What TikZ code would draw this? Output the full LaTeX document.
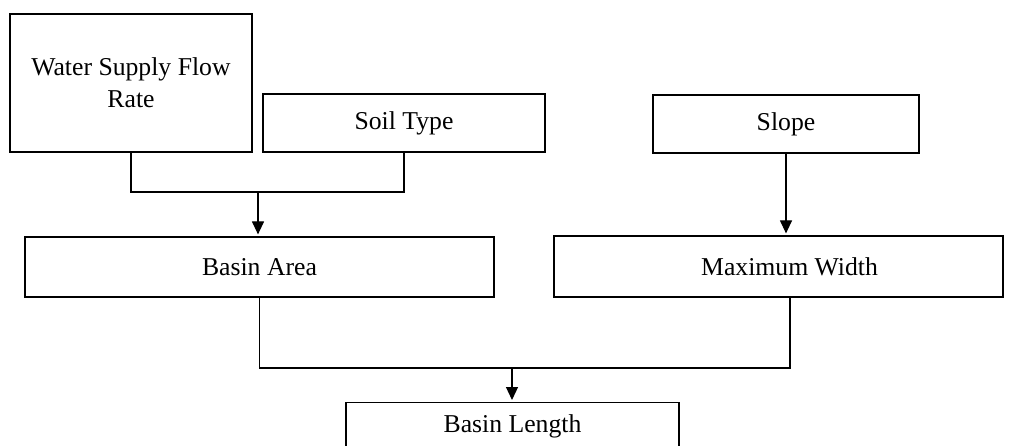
\documentclass[tikz,border=0pt]{standalone}
\usepackage{fontspec}
\setmainfont{Liberation Serif}
\usetikzlibrary{arrows.meta,calc}

\tikzset{
  box/.style={draw=black, line width=1.2pt, fill=white, align=center,
              inner sep=2pt, font=\fontsize{25.7}{32}\selectfont},
  link/.style={draw=black, line width=1.2pt},
  arrowlink/.style={link, -{Triangle[length=13pt,width=12pt]}, shorten >=2pt}
}

\begin{document}
\begin{tikzpicture}[x=1pt, y=-1pt]
  \useasboundingbox (0,0) rectangle (1011,446);
  \clip (0,0) rectangle (1011,446);

  % input factors
  \node[box, minimum width=242pt, minimum height=138pt] (water) at (131,83)
    {Water Supply Flow\\Rate};
  \node[box, minimum width=282pt, minimum height=58pt] (soil) at (404,123) {Soil Type};
  \node[box, minimum width=266pt, minimum height=58pt] (slope) at (786,124) {Slope};

  % intermediate results
  \node[box, minimum width=469pt, minimum height=60pt] (area) at (259.5,267) {Basin Area};
  \node[box, minimum width=449pt, minimum height=61pt] (width) at (778.5,266.5)
    {\hspace*{22pt}Maximum Width};

  % final result (runs past the lower edge)
  \node[box, minimum width=333pt, inner sep=0pt, text height=30pt, text depth=40pt,
        anchor=north] (length) at (512.5,402) {Basin Length};

  % junction points of the bracket connectors
  \coordinate (j1) at (258,192);
  \coordinate (j2) at (512,368);

  % flow rate + soil type -> basin area
  \draw[link] (water.south) |- (soil.south |- j1) -- (soil.south);
  \draw[arrowlink] (j1) -- (j1 |- area.north);

  % slope -> maximum width
  \draw[arrowlink] (slope.south) -- (slope.south |- width.north);

  % basin area + maximum width -> basin length
  \draw[link] (area.south) |- ($(width.south |- j2)+(11.5,0)$) -- ($(width.south)+(11.5,0)$);
  \draw[arrowlink] (j2) -- (j2 |- length.north);
\end{tikzpicture}
\end{document}
